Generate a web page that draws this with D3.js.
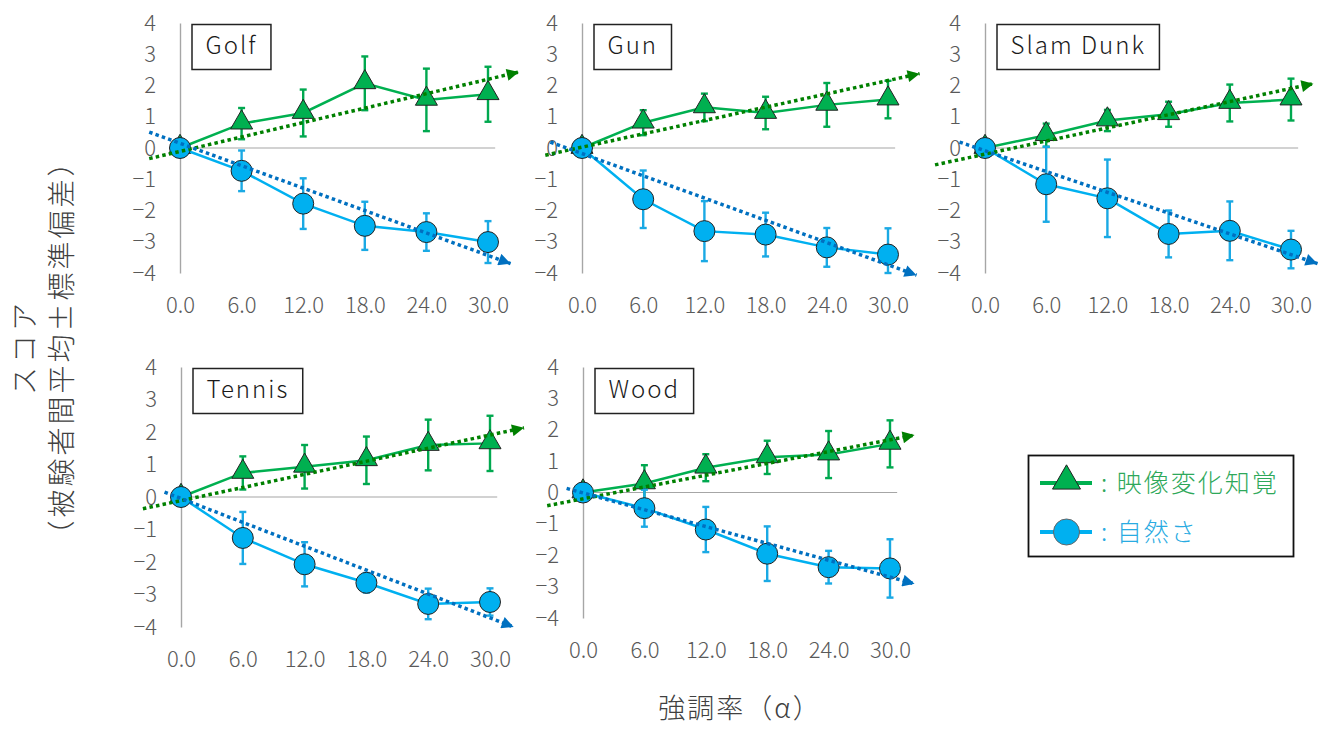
<!DOCTYPE html>
<html>
<head>
<meta charset="utf-8">
<script src="https://cdn.jsdelivr.net/npm/d3@7"></script>
<style>
  body { margin: 0; background: #fff; }
  svg text { font-family: 'Noto Sans CJK JP', 'Noto Sans', sans-serif; font-weight: 300; }
</style>
</head>
<body>
<svg id="chart" width="1325" height="729"></svg>
<script>
const alphas = [0, 6, 12, 18, 24, 30];
const yTicks = [-4, -3, -2, -1, 0, 1, 2, 3, 4];
const panelNames = ['Golf', 'Gun', 'Slam Dunk', 'Tennis', 'Wood'];
const seriesNames = ['映像変化知覚', '自然さ'];

// 映像変化知覚: mean and SD per panel
const perceptionMean = [
  [0, 0.78, 1.12, 2.07, 1.54, 1.72],
  [0, 0.81, 1.30, 1.12, 1.38, 1.55],
  [0, 0.41, 0.88, 1.08, 1.44, 1.55],
  [0, 0.74, 0.93, 1.13, 1.60, 1.65],
  [0, 0.29, 0.79, 1.12, 1.21, 1.55],
];
const perceptionSd = [
  [0, 0.50, 0.75, 0.86, 1.00, 0.88],
  [0, 0.40, 0.44, 0.52, 0.70, 0.60],
  [0, 0.37, 0.34, 0.40, 0.59, 0.67],
  [0, 0.51, 0.67, 0.73, 0.78, 0.85],
  [0, 0.58, 0.43, 0.53, 0.75, 0.75],
];
// 自然さ: mean and SD per panel
const naturalMean = [
  [0, -0.73, -1.78, -2.49, -2.69, -3.01],
  [0, -1.64, -2.66, -2.77, -3.18, -3.41],
  [0, -1.16, -1.61, -2.75, -2.65, -3.25],
  [0, -1.26, -2.07, -2.64, -3.29, -3.23],
  [0, -0.50, -1.18, -1.95, -2.38, -2.42],
];
const naturalSd = [
  [0, 0.65, 0.81, 0.77, 0.60, 0.67],
  [0, 0.92, 0.96, 0.70, 0.62, 0.84],
  [0, 1.20, 1.24, 0.75, 0.94, 0.60],
  [0, 0.80, 0.68, 0.30, 0.47, 0.42],
  [0, 0.59, 0.72, 0.87, 0.52, 0.93],
];
// trend lines: [alphaStart, valueStart, alphaEnd, valueEnd]
const perceptionTrend = [
  [-3.0, -0.34, 33.0, 2.43],
  [-3.6, -0.23, 33.1, 2.38],
  [-4.9, -0.54, 32.2, 2.06],
  [-3.7, -0.36, 33.3, 2.13],
  [-3.5, -0.42, 32.4, 1.83],
];
const naturalTrend = [
  [-3.0, 0.51, 32.2, -3.70],
  [-3.1, 0.19, 32.8, -4.07],
  [-2.5, 0.19, 32.6, -3.70],
  [-1.6, 0.15, 32.3, -4.00],
  [-1.6, 0.13, 32.4, -2.91],
];

// where each panel sits: pixel of alpha 0 / 30 and of +4 / -4
const layout = [
  { x0: 180, x1: 488, top: 23, bottom: 273 },
  { x0: 582, x1: 888, top: 23, bottom: 273 },
  { x0: 985, x1: 1291, top: 23, bottom: 273 },
  { x0: 181, x1: 490, top: 367, bottom: 627 },
  { x0: 583, x1: 890, top: 367, bottom: 618 },
];

const colors = {
  perception: '#00b050',
  perceptionBar: '#00a84f',
  perceptionTrend: '#008000',
  natural: '#00b0f0',
  naturalBar: '#1aa9e4',
  naturalTrend: '#0070c0',
  tick: '#595959',
  axis: '#a6a6a6',
  title: '#404040',
};

const svg = d3.select('#chart');
svg.append('rect').attr('width', 1325).attr('height', 729).attr('fill', '#fff');

const defs = svg.append('defs');
[['arrow-green', colors.perceptionTrend], ['arrow-blue', colors.naturalTrend]].forEach(([id, c]) => {
  defs
    .append('marker')
    .attr('id', id)
    .attr('viewBox', '0 0 10 10')
    .attr('refX', 10)
    .attr('refY', 5)
    .attr('markerWidth', 14)
    .attr('markerHeight', 12)
    .attr('markerUnits', 'userSpaceOnUse')
    .attr('orient', 'auto')
    .append('path')
    .attr('d', 'M0,0 L10,5 L0,10 z')
    .attr('fill', c);
});

const triangle = d3.symbol(d3.symbolTriangle, 210);
const FONT = "'Noto Sans CJK JP', sans-serif";

panelNames.forEach((name, p) => {
  const L = layout[p];
  const x = d3.scaleLinear().domain([0, 30]).range([L.x0, L.x1]);
  const y = d3.scaleLinear().domain([-4, 4]).range([L.bottom, L.top]);
  const g = svg.append('g');

  // y axis (crosses at alpha 0)
  g.append('g')
    .attr('transform', `translate(${x(0)},0)`)
    .call(d3.axisLeft(y).tickValues(yTicks).tickSize(0).tickSizeOuter(0).tickPadding(24).tickFormat(d3.format('d')))
    .call(a => a.select('.domain').attr('stroke', colors.axis).attr('stroke-width', 1.4))
    .call(a => a.selectAll('text').attr('fill', colors.tick).attr('font-size', 22).attr('font-family', FONT));

  // x tick labels under the plot
  g.append('g')
    .attr('transform', `translate(0,${L.bottom})`)
    .call(d3.axisBottom(x).tickValues(alphas).tickSize(0).tickPadding(24).tickFormat(d3.format('.1f')))
    .call(a => a.select('.domain').remove())
    .call(a => a.selectAll('text').attr('fill', colors.tick).attr('font-size', 22).attr('font-family', FONT));

  // zero line
  g.append('line')
    .attr('x1', x(0)).attr('x2', x(30.7))
    .attr('y1', y(0)).attr('y2', y(0))
    .attr('stroke', colors.axis).attr('stroke-width', 1.2);

  const clampY = v => y(Math.max(-4, Math.min(4, v)));
  const drawSeries = (means, sds, lineColor, barColor, isTri) => {
    const pts = alphas.map((a, i) => ({ a, m: means[p][i], s: sds[p][i] }));
    // error bars
    const bars = g.append('g').attr('stroke', barColor).attr('stroke-width', 2.4);
    pts.filter(d => d.s > 0).forEach(d => {
      const yt = clampY(d.m + d.s), yb = clampY(d.m - d.s);
      bars.append('line').attr('x1', x(d.a)).attr('x2', x(d.a)).attr('y1', yt).attr('y2', yb);
      bars.append('line').attr('x1', x(d.a) - 3.5).attr('x2', x(d.a) + 3.5).attr('y1', yt).attr('y2', yt);
      bars.append('line').attr('x1', x(d.a) - 3.5).attr('x2', x(d.a) + 3.5).attr('y1', yb).attr('y2', yb);
    });
    g.append('path')
      .datum(pts)
      .attr('fill', 'none')
      .attr('stroke', lineColor)
      .attr('stroke-width', 2.5)
      .attr('d', d3.line().x(d => x(d.a)).y(d => y(d.m)));
    const marks = g.append('g');
    pts.forEach(d => {
      if (isTri) {
        marks.append('path')
          .attr('d', triangle())
          .attr('transform', `translate(${x(d.a)},${y(d.m) - 1})`)
          .attr('fill', lineColor).attr('stroke', '#222').attr('stroke-width', 1);
      } else {
        marks.append('circle')
          .attr('cx', x(d.a)).attr('cy', y(d.m)).attr('r', 10.5)
          .attr('fill', lineColor).attr('stroke', '#222').attr('stroke-width', 1);
      }
    });
  };
  drawSeries(perceptionMean, perceptionSd, colors.perception, colors.perceptionBar, true);
  drawSeries(naturalMean, naturalSd, colors.natural, colors.naturalBar, false);

  // trend lines
  [[perceptionTrend, colors.perceptionTrend, 'arrow-green'], [naturalTrend, colors.naturalTrend, 'arrow-blue']]
    .forEach(([t, c, m]) => {
      const [a0, v0, a1, v1] = t[p];
      g.append('line')
        .attr('x1', x(a0)).attr('y1', y(v0))
        .attr('x2', x(a1)).attr('y2', y(v1))
        .attr('stroke', c).attr('stroke-width', 3.5)
        .attr('stroke-dasharray', '3.5 3.2')
        .attr('marker-end', `url(#${m})`);
    });

  // panel title box
  const tg = g.append('g');
  const label = tg.append('text')
    .attr('x', x(0) + 12 + 13.5)
    .attr('y', y(4) + 23)
    .attr('dy', '0.35em')
    .attr('font-size', 24)
    .attr('letter-spacing', 2)
    .attr('fill', '#1a1a1a')
    .text(name);
  const w = label.node().getComputedTextLength();
  tg.insert('rect', 'text')
    .attr('x', x(0) + 12)
    .attr('y', y(4) + 1.5)
    .attr('width', w + 27)
    .attr('height', 45)
    .attr('fill', '#fff')
    .attr('stroke', '#222')
    .attr('stroke-width', 1.5);
});

// axis titles
svg.append('text')
  .attr('transform', 'translate(25,347) rotate(-90)')
  .attr('text-anchor', 'middle')
  .attr('dy', '0.35em')
  .attr('font-size', 28)
  .attr('letter-spacing', 4)
  .attr('fill', colors.title)
  .text('スコア');
svg.append('text')
  .attr('transform', 'translate(62,347) rotate(-90)')
  .attr('text-anchor', 'middle')
  .attr('dy', '0.35em')
  .attr('font-size', 28)
  .attr('letter-spacing', 3)
  .attr('fill', colors.title)
  .text('（被験者間平均±標準偏差）');
svg.append('text')
  .attr('x', 740)
  .attr('y', 709)
  .attr('text-anchor', 'middle')
  .attr('dy', '0.35em')
  .attr('font-size', 27)
  .attr('letter-spacing', 2)
  .attr('fill', colors.title)
  .text('強調率（α）');

// legend
const lg = svg.append('g');
lg.append('rect')
  .attr('x', 1028.5).attr('y', 455.5)
  .attr('width', 265).attr('height', 101)
  .attr('fill', '#fff').attr('stroke', '#111').attr('stroke-width', 1.8);
const legendRows = [
  { name: seriesNames[0], color: colors.perception, tri: true, cy: 483 },
  { name: seriesNames[1], color: colors.natural, tri: false, cy: 532 },
];
legendRows.forEach(r => {
  lg.append('line')
    .attr('x1', 1040).attr('x2', 1092)
    .attr('y1', r.cy).attr('y2', r.cy)
    .attr('stroke', r.color).attr('stroke-width', 4);
  if (r.tri) {
    lg.append('path')
      .attr('d', d3.symbol(d3.symbolTriangle, 340)())
      .attr('transform', `translate(1066.5,${r.cy - 2})`)
      .attr('fill', r.color).attr('stroke', '#222').attr('stroke-width', 1);
  } else {
    lg.append('circle')
      .attr('cx', 1066.5).attr('cy', r.cy).attr('r', 13)
      .attr('fill', r.color).attr('stroke', '#666').attr('stroke-width', 1);
  }
  lg.append('text')
    .attr('x', 1101).attr('y', r.cy)
    .attr('dy', '0.35em')
    .attr('font-size', 25)
    .attr('letter-spacing', 2)
    .attr('fill', r.tri ? '#2ea85a' : '#29abe2')
    .text(': ' + r.name);
});
</script>
</body>
</html>
